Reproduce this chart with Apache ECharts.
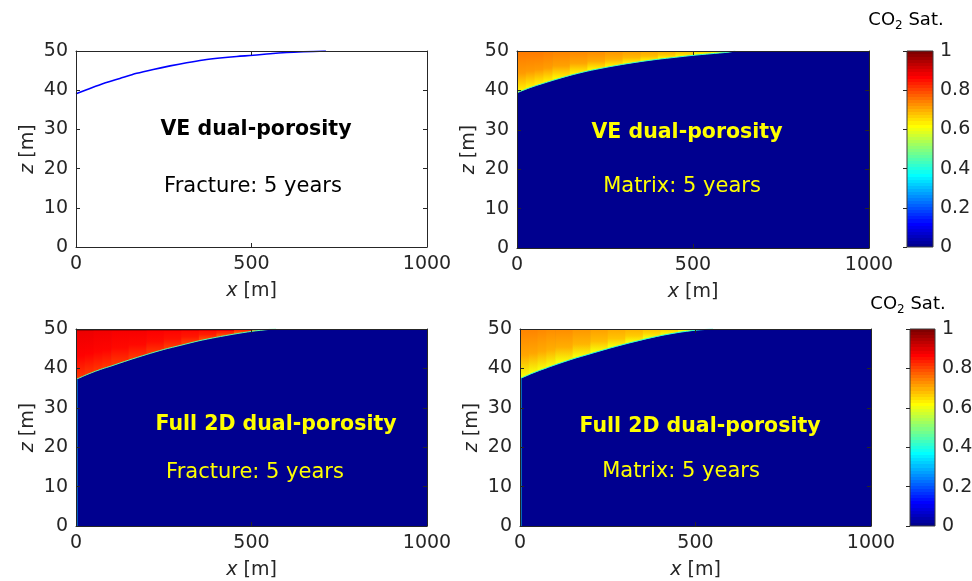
<!DOCTYPE html>
<html>
<head>
<meta charset="utf-8">
<title>CO2 saturation – dual-porosity models</title>
<script src="https://cdn.jsdelivr.net/npm/echarts@6.0.0/dist/echarts.min.js"></script>
<style>
  html, body { margin: 0; padding: 0; background: #ffffff; }
  #chart { width: 972px; height: 581px; }
</style>
</head>
<body>
<div id="chart"></div>
<script>
// ---- Domain, ticks and colour range --------------------------------------
const xLimits = [0, 1000];      // lateral extent (m)
const zLimits = [0, 50];        // vertical extent (m)
const xTickStep = 500;
const zTickStep = 10;
const satLimits = [0, 1];
const satTickStep = 0.2;
const backgroundSat = 0;        // brine-filled part of the layer
const topCellDepth = 0.4;       // thickness of the uppermost grid row (m)

// ---- VE dual-porosity, fracture: CO2/brine interface --------------------
const veFracX = [0, 30, 78, 125, 173, 220, 268, 315, 363, 410, 458, 505, 553, 600, 648, 712];
const veFracZ = [39.1, 40.1, 41.7, 43.0, 44.3, 45.3, 46.2, 47.0, 47.7, 48.2, 48.6, 48.9, 49.3, 49.6, 49.8, 50.0];

// ---- VE dual-porosity, matrix saturation --------------------------------
const veMatX    = [0, 25, 50, 75, 100, 150, 200, 250, 300, 350, 400, 450, 500, 550, 600, 620];
const veMatZ    = [39.4, 40.3, 41.1, 41.8, 42.5, 43.8, 44.9, 45.8, 46.6, 47.3, 47.9, 48.4, 48.9, 49.3, 49.7, 50.0];
const veMatTop  = [0.75, 0.75, 0.75, 0.745, 0.74, 0.735, 0.73, 0.72, 0.71, 0.70, 0.69, 0.67, 0.65, 0.63, 0.60, 0.56];
const veMatBase = [0.63, 0.63, 0.63, 0.63, 0.63, 0.63, 0.63, 0.63, 0.63, 0.63, 0.62, 0.62, 0.61, 0.60, 0.57, 0.54];
const veMatRim  = 0.42;

// ---- Full 2D dual-porosity, fracture saturation -------------------------
const fullFracX     = [0, 25, 50, 75, 100, 150, 200, 250, 300, 350, 400, 450, 500, 550, 570];
const fullFracZ     = [37.2, 38.2, 39.1, 39.9, 40.6, 42.1, 43.5, 44.8, 45.9, 47.0, 47.9, 48.7, 49.4, 49.9, 50.0];
const fullFracCap   = [0.96, 0.96, 0.95, 0.95, 0.95, 0.95, 0.94, 0.94, 0.93, 0.92, 0.91, 0.89, 0.86, 0.80, 0.75];
const fullFracTop   = [0.89, 0.89, 0.885, 0.885, 0.88, 0.88, 0.875, 0.87, 0.865, 0.86, 0.85, 0.84, 0.82, 0.78, 0.74];
const fullFracBase  = [0.82, 0.82, 0.82, 0.82, 0.82, 0.82, 0.82, 0.815, 0.81, 0.80, 0.79, 0.77, 0.74, 0.68, 0.64];
const fullFracRim   = 0.45;
const fullFracWell  = [0, 4, 0, 37.2, 0.33];   // x0, x1, z0, z1, saturation of the injection column

// ---- Full 2D dual-porosity, matrix saturation ---------------------------
const fullMatX    = [0, 25, 50, 75, 100, 150, 200, 250, 300, 350, 400, 450, 500, 550];
const fullMatZ    = [37.4, 38.4, 39.3, 40.1, 40.9, 42.4, 43.7, 45.0, 46.2, 47.3, 48.3, 49.1, 49.7, 50.0];
const fullMatTop  = [0.74, 0.74, 0.735, 0.73, 0.73, 0.72, 0.71, 0.70, 0.69, 0.675, 0.66, 0.64, 0.61, 0.57];
const fullMatBase = [0.61, 0.61, 0.61, 0.61, 0.61, 0.61, 0.61, 0.61, 0.61, 0.60, 0.60, 0.59, 0.57, 0.54];
const fullMatRim  = 0.40;
const fullMatWell = [0, 4, 0, 37.4, 0.38];

// ---- Text ---------------------------------------------------------------
const panelTitles    = ['VE dual-porosity', 'VE dual-porosity', 'Full 2D dual-porosity', 'Full 2D dual-porosity'];
const panelSubtitles = ['Fracture: 5 years', 'Matrix: 5 years', 'Fracture: 5 years', 'Matrix: 5 years'];
const xAxisName = '{i|x} [m]';
const zAxisName = '{i|z} [m]';
const colorbarTitle = 'CO{sub|2} Sat.';

// ---- Colour map (MATLAB-style jet, 64 levels) ---------------------------
function ramp(j) { return Math.max(0, Math.min(1, j / 16, (48 - j) / 16)); }
function jet(v) {
  const t = Math.max(0, Math.min(1, v));
  const k = 1 + 63 * t;
  const c = [ramp(k - 24), ramp(k - 8), ramp(k + 8)].map(u => Math.round(u * 255));
  return 'rgb(' + c.join(',') + ')';
}

const FONT = 'DejaVu Sans';
const AX = '#262626';
const LABEL_SIZE = 19;
const plainNumber = v => String(+v.toFixed(6));

// ---- Layout -------------------------------------------------------------
const panelBoxes = [
  { left: 76,  top: 51,  width: 351, height: 196 },
  { left: 517, top: 51,  width: 352, height: 197 },
  { left: 76,  top: 329, width: 351, height: 197 },
  { left: 520, top: 329, width: 351, height: 197 }
];
const barBoxes = [
  { left: 907, top: 51,  width: 26, height: 196 },
  { left: 910, top: 329, width: 25, height: 197 }
];

const grid = panelBoxes.concat(barBoxes).map(b => Object.assign({ outerBoundsMode: 'none', containLabel: false }, b));

const xAxis = [], yAxis = [];
panelBoxes.forEach((b, gi) => {
  ['bottom', 'top'].forEach(pos => {
    const main = pos === 'bottom';
    xAxis.push({
      type: 'value', gridIndex: gi, position: pos, min: xLimits[0], max: xLimits[1], interval: xTickStep, z: 10,
      axisLine: { show: true, onZero: false, lineStyle: { color: AX, width: 1 } },
      axisTick: { show: true, inside: true, length: 4, lineStyle: { color: AX } },
      axisLabel: { show: main, color: AX, fontSize: LABEL_SIZE, fontFamily: FONT, margin: 8,
                   showMinLabel: true, showMaxLabel: true, formatter: plainNumber },
      splitLine: { show: false },
      name: main ? xAxisName : '', nameLocation: 'middle', nameGap: 35,
      nameTextStyle: { color: AX, fontSize: LABEL_SIZE, fontFamily: FONT,
        rich: { i: { fontStyle: 'italic', fontSize: LABEL_SIZE, fontFamily: FONT, color: AX } } }
    });
  });
  ['left', 'right'].forEach(pos => {
    const main = pos === 'left';
    yAxis.push({
      type: 'value', gridIndex: gi, position: pos, min: zLimits[0], max: zLimits[1], interval: zTickStep, z: 10,
      axisLine: { show: true, onZero: false, lineStyle: { color: AX, width: 1 } },
      axisTick: { show: true, inside: true, length: 4, lineStyle: { color: AX } },
      axisLabel: { show: main, color: AX, fontSize: LABEL_SIZE, fontFamily: FONT, margin: 8,
                   showMinLabel: true, showMaxLabel: true, formatter: plainNumber },
      splitLine: { show: false },
      name: main ? zAxisName : '', nameLocation: 'middle', nameGap: 38,
      nameTextStyle: { color: AX, fontSize: LABEL_SIZE, fontFamily: FONT,
        rich: { i: { fontStyle: 'italic', fontSize: LABEL_SIZE, fontFamily: FONT, color: AX } } }
    });
  });
});
barBoxes.forEach((b, k) => {
  const gi = panelBoxes.length + k;
  xAxis.push({ type: 'value', gridIndex: gi, min: 0, max: 1, show: false });
  yAxis.push({
    type: 'value', gridIndex: gi, position: 'right', min: satLimits[0], max: satLimits[1], interval: satTickStep, z: 10,
    axisLine: { show: false },
    axisTick: { show: true, inside: true, length: 4, lineStyle: { color: AX } },
    axisLabel: { show: true, color: AX, fontSize: LABEL_SIZE, fontFamily: FONT, margin: 7, formatter: plainNumber },
    splitLine: { show: false }
  });
});

// ---- Renderers ----------------------------------------------------------
function renderCell(params, api) {
  const p0 = api.coord([api.value(0), api.value(2)]);
  const p1 = api.coord([api.value(1), api.value(3)]);
  return {
    type: 'rect',
    shape: { x: Math.min(p0[0], p1[0]), y: Math.min(p0[1], p1[1]),
             width: Math.abs(p1[0] - p0[0]), height: Math.abs(p1[1] - p0[1]) },
    style: { fill: jet(api.value(4)) }
  };
}

// one vertical column of the plume: cap row, core and the value just above the interface
function renderPlumeStrip(params, api) {
  const x0 = api.value(0), x1 = api.value(1), z0 = api.value(2), z1 = api.value(3);
  const sCap = api.value(4), sCore = api.value(5), sBase = api.value(6);
  const top = zLimits[1];
  const a = api.coord([x0, top]), b = api.coord([x1, top]);
  const c = api.coord([x1, z1]), d = api.coord([x0, z0]);
  const yTop = a[1];
  const yBot = Math.max((c[1] + d[1]) / 2, yTop + 1);
  const capPx = api.size([0, topCellDepth])[1];
  const f = Math.min(capPx / (yBot - yTop), 0.3);
  return {
    type: 'polygon',
    shape: { points: [[a[0], a[1]], [b[0] + 0.7, b[1]], [c[0] + 0.7, c[1]], [d[0], d[1]]] },
    style: {
      fill: {
        type: 'linear', global: true, x: 0, y: yTop, x2: 0, y2: yBot,
        colorStops: [
          { offset: 0, color: jet(sCap) },
          { offset: f, color: jet(sCap) },
          { offset: Math.min(f + 0.02, 1), color: jet(sCore) },
          { offset: 0.55, color: jet(sCore - 0.25 * (sCore - sBase)) },
          { offset: 1, color: jet(sBase) }
        ]
      }
    }
  };
}

function renderColorbar(params, api) {
  const p0 = api.coord([0, api.value(0)]);
  const p1 = api.coord([1, api.value(1)]);
  const stops = [];
  const n = 64;
  for (let k = 0; k < n; k++) {
    const col = jet(k / (n - 1));
    stops.push({ offset: k / n, color: col }, { offset: (k + 1) / n, color: col });
  }
  return {
    type: 'rect',
    shape: { x: p0[0], y: p1[1], width: p1[0] - p0[0], height: p0[1] - p1[1] },
    style: {
      fill: { type: 'linear', global: true, x: 0, y: p0[1], x2: 0, y2: p1[1], colorStops: stops },
      stroke: '#3a3a3a', lineWidth: 1
    }
  };
}

// ---- Series builders ----------------------------------------------------
function stripsFrom(xs, zs, cap, core, base) {
  const out = [];
  for (let i = 0; i < xs.length - 1; i++) {
    out.push([xs[i], xs[i + 1], zs[i], zs[i + 1], cap[i], core[i], base[i]]);
  }
  return out;
}
function zip(xs, zs) { return xs.map((x, i) => [x, zs[i]]); }

function backgroundSeries(gi) {
  return {
    type: 'custom', xAxisIndex: 2 * gi, yAxisIndex: 2 * gi, renderItem: renderCell, clip: true, silent: true,
    data: [[xLimits[0], xLimits[1], zLimits[0], zLimits[1], backgroundSat]], z: 1
  };
}
function plumeSeries(gi, xs, zs, cap, core, base) {
  return {
    type: 'custom', xAxisIndex: 2 * gi, yAxisIndex: 2 * gi, renderItem: renderPlumeStrip, clip: true, silent: true,
    data: stripsFrom(xs, zs, cap, core, base), z: 2
  };
}
function rimSeries(gi, xs, zs, sat) {
  return {
    type: 'line', xAxisIndex: 2 * gi, yAxisIndex: 2 * gi, data: zip(xs, zs), symbol: 'none', clip: true, silent: true,
    smooth: 0.25, lineStyle: { color: jet(sat), width: 1 }, z: 3
  };
}
function wellSeries(gi, cell) {
  return {
    type: 'custom', xAxisIndex: 2 * gi, yAxisIndex: 2 * gi, renderItem: renderCell, clip: true, silent: true,
    data: [cell], z: 3
  };
}

const series = [
  // fracture interface, VE model
  {
    type: 'line', xAxisIndex: 0, yAxisIndex: 0, data: zip(veFracX, veFracZ), symbol: 'none', silent: true,
    smooth: 0.3, lineStyle: { color: '#0000ff', width: 1.6 }, z: 3
  },
  // matrix saturation, VE model
  backgroundSeries(1),
  plumeSeries(1, veMatX, veMatZ, veMatTop, veMatTop, veMatBase),
  rimSeries(1, veMatX, veMatZ, veMatRim),
  // fracture saturation, full 2D model
  backgroundSeries(2),
  plumeSeries(2, fullFracX, fullFracZ, fullFracCap, fullFracTop, fullFracBase),
  rimSeries(2, fullFracX, fullFracZ, fullFracRim),
  wellSeries(2, fullFracWell),
  // matrix saturation, full 2D model
  backgroundSeries(3),
  plumeSeries(3, fullMatX, fullMatZ, fullMatTop, fullMatTop, fullMatBase),
  rimSeries(3, fullMatX, fullMatZ, fullMatRim),
  wellSeries(3, fullMatWell),
  // colour bars
  { type: 'custom', xAxisIndex: 8, yAxisIndex: 8, renderItem: renderColorbar, silent: true, data: [satLimits] },
  { type: 'custom', xAxisIndex: 9, yAxisIndex: 9, renderItem: renderColorbar, silent: true, data: [satLimits] }
];

// ---- Annotations --------------------------------------------------------
const titleSpots    = [[256, 130], [687, 133], [276, 425], [700, 427]];
const subtitleSpots = [[253, 187], [682, 187], [255, 473], [681, 472]];
const textColors    = ['#000000', '#ffff00', '#ffff00', '#ffff00'];
const graphic = [];
panelTitles.forEach((t, i) => {
  graphic.push({
    type: 'text', x: titleSpots[i][0], y: titleSpots[i][1], z: 20, silent: true,
    style: { text: t, fill: textColors[i], fontSize: 20.5, fontWeight: 'bold', fontFamily: FONT, align: 'center', verticalAlign: 'middle' }
  });
  graphic.push({
    type: 'text', x: subtitleSpots[i][0], y: subtitleSpots[i][1], z: 20, silent: true,
    style: { text: panelSubtitles[i], fill: textColors[i], fontSize: 21, fontFamily: FONT, align: 'center', verticalAlign: 'middle' }
  });
});
[[906, 20], [908, 304]].forEach(p => {
  graphic.push({
    type: 'text', x: p[0], y: p[1], z: 20, silent: true,
    style: {
      text: colorbarTitle, fill: '#000000', fontSize: 18, fontFamily: FONT, align: 'center', verticalAlign: 'middle',
      rich: {
        sub: { fontSize: 12, fontFamily: FONT, lineHeight: 12, verticalAlign: 'bottom', fill: '#000000' }
      },
      lineHeight: 24
    }
  });
});

const chart = echarts.init(document.getElementById('chart'), null, { renderer: 'canvas' });
chart.setOption({
  animation: false,
  backgroundColor: '#ffffff',
  textStyle: { fontFamily: FONT },
  grid, xAxis, yAxis, series, graphic
});
</script>
</body>
</html>
